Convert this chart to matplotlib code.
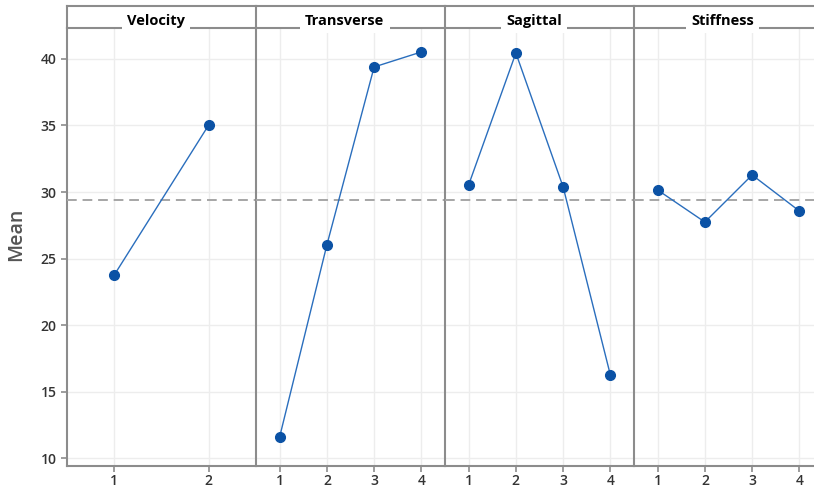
import matplotlib
matplotlib.use("Agg")
import matplotlib.pyplot as plt

# factor names and level means
factors = ["Velocity", "Transverse", "Sagittal", "Stiffness"]
velocity = [23.76, 35.04]
transverse = [11.58, 26.02, 39.40, 40.53]
sagittal = [30.53, 40.45, 30.38, 16.24]
stiffness = [30.15, 27.74, 31.28, 28.57]
grand_mean = 29.4
y_ticks = [10, 15, 20, 25, 30, 35, 40]

means = [velocity, transverse, sagittal, stiffness]

plt.rcParams["font.family"] = ["Open Sans", "DejaVu Sans"]

frame_col = "#8c8c8c"
grid_col = "#ededed"
line_col = "#2a6ebd"
dot_col = "#0b52a5"
text_col = "#333333"

fig = plt.figure(figsize=(8.14, 4.86), dpi=100)
W, H = 814.0, 486.0
left_px, panel_w = 67.0, 189.0
bot_px, top_px, head_px = 466.0, 28.0, 6.0

axes = []
for i, (name, vals) in enumerate(zip(factors, means)):
    x0 = (left_px + i * panel_w) / W
    ax = fig.add_axes([x0, (H - bot_px) / H, panel_w / W, (bot_px - top_px) / H])
    levels = list(range(1, len(vals) + 1))
    ax.plot(levels, vals, color=line_col, lw=1.0, marker="o", ms=7,
            mfc=dot_col, mec=dot_col, zorder=4)
    ax.axhline(grand_mean, color="#a6a6a6", lw=1.4, ls=(0, (5, 3)), zorder=3)
    ax.set_xlim(0.5, len(vals) + 0.5)
    ax.set_ylim(9.4, 42.33)
    ax.set_xticks(levels)
    ax.set_yticks(y_ticks)
    ax.grid(True, color=grid_col, lw=1.0)
    ax.set_axisbelow(True)
    ax.spines["top"].set_visible(False)
    ax.spines["right"].set_visible(i == len(factors) - 1)
    for side in ["left", "bottom", "right"]:
        ax.spines[side].set_color(frame_col)
        ax.spines[side].set_linewidth(1.5)
    ax.tick_params(axis="both", colors=frame_col, labelcolor=text_col,
                   labelsize=10, length=4, width=1.2)
    ax.tick_params(axis="x", pad=2)
    for lab in ax.get_xticklabels() + ax.get_yticklabels():
        lab.set_fontweight("semibold")
    if i == 0:
        ax.set_ylabel("Mean", fontsize=14, color="#555555", fontweight="semibold")
        ax.yaxis.set_label_coords(-0.215, 0.53)
    else:
        ax.tick_params(axis="y", left=False, labelleft=False)
    axes.append(ax)

    # header strip with the factor name
    hx = fig.add_axes([x0, (H - top_px) / H, panel_w / W, (top_px - head_px) / H])
    hx.set_xlim(0, 1)
    hx.set_ylim(0, 1)
    hx.set_xticks([])
    hx.set_yticks([])
    hx.patch.set_alpha(0)
    hx.spines["right"].set_visible(i == len(factors) - 1)
    for side in ["left", "bottom", "top", "right"]:
        hx.spines[side].set_color(frame_col)
        hx.spines[side].set_linewidth(1.5)
    hx.text(0.47, 0.32, name, ha="center", va="center", fontsize=10.5,
            fontweight="bold", color="black", clip_on=False,
            bbox=dict(boxstyle="square,pad=0.35", fc="white", ec="none"),
            zorder=5)

fig.savefig("out.png", dpi=100)
